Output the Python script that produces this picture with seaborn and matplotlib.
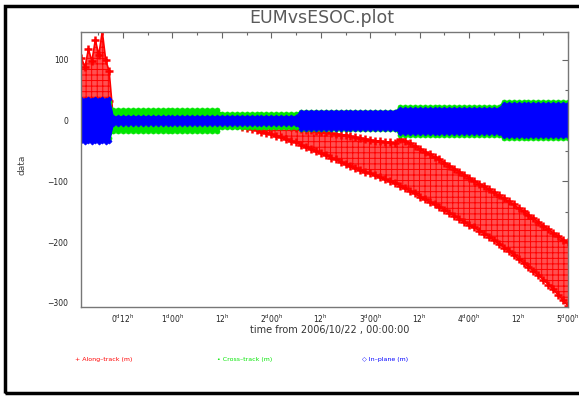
import matplotlib
matplotlib.use("Agg")
import matplotlib.pyplot as plt
import seaborn as sns
import pandas as pd
from matplotlib.patches import Rectangle
from matplotlib.ticker import FixedLocator

# ---------------- data ----------------
# time in days from 2006/10/22 00:00:00; upper / lower envelope of each series
early_t = [0.080, 0.115, 0.150, 0.185, 0.220, 0.255, 0.290, 0.325, 0.360]
along_hi_early = [103, 88, 118, 98, 133, 108, 147, 100, 81]
along_lo_early = [32, 32, 32, 32, 32, 32, 32, 32, 32]
cross_hi_early = [30, 28, 31, 29, 30, 28, 31, 29, 30]
cross_lo_early = [-28, -30, -27, -29, -28, -30, -27, -29, -28]
inplane_hi_early = [36, 34, 36, 34, 36, 34, 36, 34, 35]
inplane_lo_early = [-33, -36, -33, -36, -33, -36, -33, -36, -33]

main_t = [0.40, 0.45, 0.50, 0.55, 0.60, 0.65, 0.70, 0.75, 0.80, 0.85,
          0.90, 0.95, 1.00, 1.05, 1.10, 1.15, 1.20, 1.25, 1.30, 1.35,
          1.40, 1.45, 1.50, 1.55, 1.60, 1.65, 1.70, 1.75, 1.80, 1.85,
          1.90, 1.95, 2.00, 2.05, 2.10, 2.15, 2.20, 2.25, 2.30, 2.35,
          2.40, 2.45, 2.50, 2.55, 2.60, 2.65, 2.70, 2.75, 2.80, 2.85,
          2.90, 2.95, 3.00, 3.05, 3.10, 3.15, 3.20, 3.25, 3.30, 3.35,
          3.40, 3.45, 3.50, 3.55, 3.60, 3.65, 3.70, 3.75, 3.80, 3.85,
          3.90, 3.95, 4.00, 4.05, 4.10, 4.15, 4.20, 4.25, 4.30, 4.35,
          4.40, 4.45, 4.50, 4.55, 4.60, 4.65, 4.70, 4.75, 4.80, 4.85,
          4.90, 4.95, 5.00]

along_hi = [6, 6, 6, 6, 6, 6, 6, 6, 6, 6,
            6, 6, 6, 6, 6, 6, 6, 6, 6, 6,
            6, 5, 4, 3, 2, 1, 0, -1, -2, -3,
            -4, -5, -6, -7, -8, -9, -11, -12, -14, -15,
            -16, -17, -18, -19, -21, -22, -23, -24, -26, -27,
            -29, -30, -32, -33, -34, -35, -36, -37, -30, -33,
            -37, -42, -46, -51, -55, -60, -64, -69, -74, -79,
            -84, -89, -94, -99, -104, -108, -113, -118, -123, -128,
            -133, -138, -144, -149, -155, -161, -167, -173, -179, -185,
            -190, -196, -200]
along_lo = [-5, -5, -5, -5, -5, -5, -5, -5, -5, -5,
            -5, -5, -5, -5, -5, -5, -5, -5, -5, -5,
            -5, -5, -5, -6, -7, -8, -10, -12, -14, -16,
            -18, -20, -22, -25, -27, -30, -33, -36, -40, -43,
            -47, -50, -54, -57, -61, -64, -68, -71, -75, -78,
            -81, -84, -87, -90, -93, -96, -100, -103, -107, -111,
            -116, -120, -125, -129, -134, -138, -143, -147, -152, -157,
            -162, -167, -172, -176, -181, -186, -191, -197, -203, -209,
            -215, -221, -228, -234, -241, -248, -255, -262, -270, -278,
            -287, -296, -305]

cross_hi = [17, 17, 17, 17, 17, 17, 17, 17, 17, 17,
            17, 17, 17, 17, 17, 17, 17, 17, 17, 17,
            17, 17, 11, 11, 11, 11, 11, 11, 11, 11,
            11, 11, 11, 11, 11, 11, 11, 11, 14, 14,
            14, 14, 14, 14, 14, 14, 14, 14, 14, 14,
            14, 14, 14, 14, 14, 14, 14, 14, 22, 22,
            22, 22, 22, 22, 22, 22, 22, 22, 22, 22,
            22, 22, 22, 22, 22, 22, 22, 22, 22, 31,
            31, 31, 31, 31, 31, 31, 31, 31, 31, 31,
            31, 31, 31]
cross_lo = [-17, -17, -17, -17, -17, -17, -17, -17, -17, -17,
            -17, -17, -17, -17, -17, -17, -17, -17, -17, -17,
            -17, -17, -11, -11, -11, -11, -11, -11, -11, -11,
            -11, -11, -11, -11, -11, -11, -11, -11, -14, -14,
            -14, -14, -14, -14, -14, -14, -14, -14, -14, -14,
            -14, -14, -14, -14, -14, -14, -14, -14, -23, -23,
            -23, -23, -23, -23, -23, -23, -23, -23, -23, -23,
            -23, -23, -23, -23, -23, -23, -23, -23, -23, -29,
            -29, -29, -29, -29, -29, -29, -29, -29, -29, -29,
            -29, -29, -29]

inplane_hi = [6, 6, 6, 6, 6, 6, 6, 6, 6, 6,
              6, 6, 6, 6, 6, 6, 6, 6, 6, 6,
              6, 6, 6, 6, 6, 6, 6, 6, 6, 6,
              6, 6, 6, 6, 6, 6, 6, 6, 15, 15,
              15, 15, 15, 15, 15, 15, 15, 15, 15, 15,
              15, 15, 15, 15, 15, 15, 15, 15, 19, 19,
              19, 19, 19, 19, 19, 19, 19, 19, 19, 19,
              19, 19, 19, 19, 19, 19, 19, 19, 19, 27,
              27, 27, 27, 27, 27, 27, 27, 27, 27, 27,
              27, 27, 27]
inplane_lo = [-6, -6, -6, -6, -6, -6, -6, -6, -6, -6,
              -6, -6, -6, -6, -6, -6, -6, -6, -6, -6,
              -6, -6, -6, -6, -6, -6, -6, -6, -6, -6,
              -6, -6, -6, -6, -6, -6, -6, -6, -13, -13,
              -13, -13, -13, -13, -13, -13, -13, -13, -13, -13,
              -13, -13, -13, -13, -13, -13, -13, -13, -20, -20,
              -20, -20, -20, -20, -20, -20, -20, -20, -20, -20,
              -20, -20, -20, -20, -20, -20, -20, -20, -20, -26,
              -26, -26, -26, -26, -26, -26, -26, -26, -26, -26,
              -26, -26, -26]

x_ticks = [0.5, 1.0, 1.5, 2.0, 2.5, 3.0, 3.5, 4.0, 4.5, 5.0]
x_tick_labels = [r"0$^{\rm d}$12$^{\rm h}$", r"1$^{\rm d}$00$^{\rm h}$", r"12$^{\rm h}$",
                 r"2$^{\rm d}$00$^{\rm h}$", r"12$^{\rm h}$", r"3$^{\rm d}$00$^{\rm h}$",
                 r"12$^{\rm h}$", r"4$^{\rm d}$00$^{\rm h}$", r"12$^{\rm h}$",
                 r"5$^{\rm d}$00$^{\rm h}$"]
y_ticks = [100, 0, -100, -200, -300]
y_tick_labels = ["100", "0", "\u2212100", "\u2212200", "\u2212300"]

series_names = ["Along\u2013track (m)", "Cross\u2013track (m)", "In\u2013plane (m)"]

# ---------------- figure ----------------
sns.set_style("white")
plt.rcParams["hatch.linewidth"] = 0.7
W, H = 579, 397
fig = plt.figure(figsize=(W / 100, H / 100), dpi=100)
ax = fig.add_axes([81 / W, 1 - 307 / H, (568 - 81) / W, (307 - 32) / H])

red, green, blue = "#ff0000", "#00e600", "#0000ff"
times = early_t + main_t
series = [
    (along_hi_early + along_hi, along_lo_early + along_lo, red, "+", 6.0, 1.8,
     "#ff5050", "+++"),
    (cross_hi_early + cross_hi, cross_lo_early + cross_lo, green, "o", 3.6, 0.5,
     green, None),
    (inplane_hi_early + inplane_hi, inplane_lo_early + inplane_lo, blue, "D", 2.6, 0.5,
     blue, None),
]
for k, (hi, lo, col, mk, ms, mew, face, hatch) in enumerate(series):
    z = 2 + 2 * k
    ax.fill_between(times, lo, hi, facecolor=face, edgecolor=col, hatch=hatch,
                    linewidth=0, zorder=z)
    for edge in (hi, lo):
        df = pd.DataFrame({"t": times, "v": edge})
        sns.lineplot(data=df, x="t", y="v", ax=ax, color=col, lw=1.2, marker=mk,
                     markersize=ms, markeredgecolor=col, markerfacecolor=col,
                     markeredgewidth=mew, estimator=None, sort=False, legend=False,
                     zorder=z + 1)

ax.set_xlim(0.075, 5.0)
ax.set_ylim(-307, 146)
ax.set_xlabel("")
ax.set_ylabel("")

ax.xaxis.set_major_locator(FixedLocator(x_ticks))
ax.set_xticklabels(x_tick_labels)
ax.xaxis.set_minor_locator(FixedLocator([0.25 * k for k in range(1, 21)]))
ax.yaxis.set_major_locator(FixedLocator(y_ticks))
ax.set_yticklabels(y_tick_labels)
ax.yaxis.set_minor_locator(FixedLocator([-300 + 50 * k for k in range(0, 10)]))
ax.tick_params(which="both", direction="in", top=True, right=True, color="#666666",
               labelsize=5.5, labelcolor="#222222", width=0.8)
ax.tick_params(which="major", length=4)
ax.tick_params(axis="x", which="major", pad=4)
ax.tick_params(axis="y", which="major", pad=9)
ax.tick_params(which="minor", length=2)
for sp in ax.spines.values():
    sp.set_color("#777777")
    sp.set_linewidth(1.0)
    sp.set_zorder(10)

# title and axis labels
fig.text(322 / W, 1 - 18 / H, "EUMvsESOC.plot", ha="center", va="center",
         fontsize=12.5, color="#5a5a5a")
fig.text(330 / W, 1 - 330 / H, "time from 2006/10/22 , 00:00:00", ha="center",
         va="center", fontsize=7, color="#333333")
fig.text(22 / W, 1 - 165 / H, "data", ha="center", va="center", rotation=90,
         fontsize=6.5, color="#444444")

# legend row
leg_items = [("+ ", red, 75), ("\u2022 ", green, 217), ("\u25c7 ", blue, 362)]
for (sym, col, xpx), name in zip(leg_items, series_names):
    fig.text(xpx / W, 1 - 359 / H, sym + name, ha="left", va="center",
             fontsize=4.5, color=col)

# black frame (right side runs off the picture)
fig.patches.append(Rectangle((5 / W, 1 - 393 / H), 1.2, (393 - 6) / H,
                             transform=fig.transFigure, fill=False,
                             edgecolor="black", linewidth=2.5, clip_on=False))

fig.savefig("out.png", dpi=100)
